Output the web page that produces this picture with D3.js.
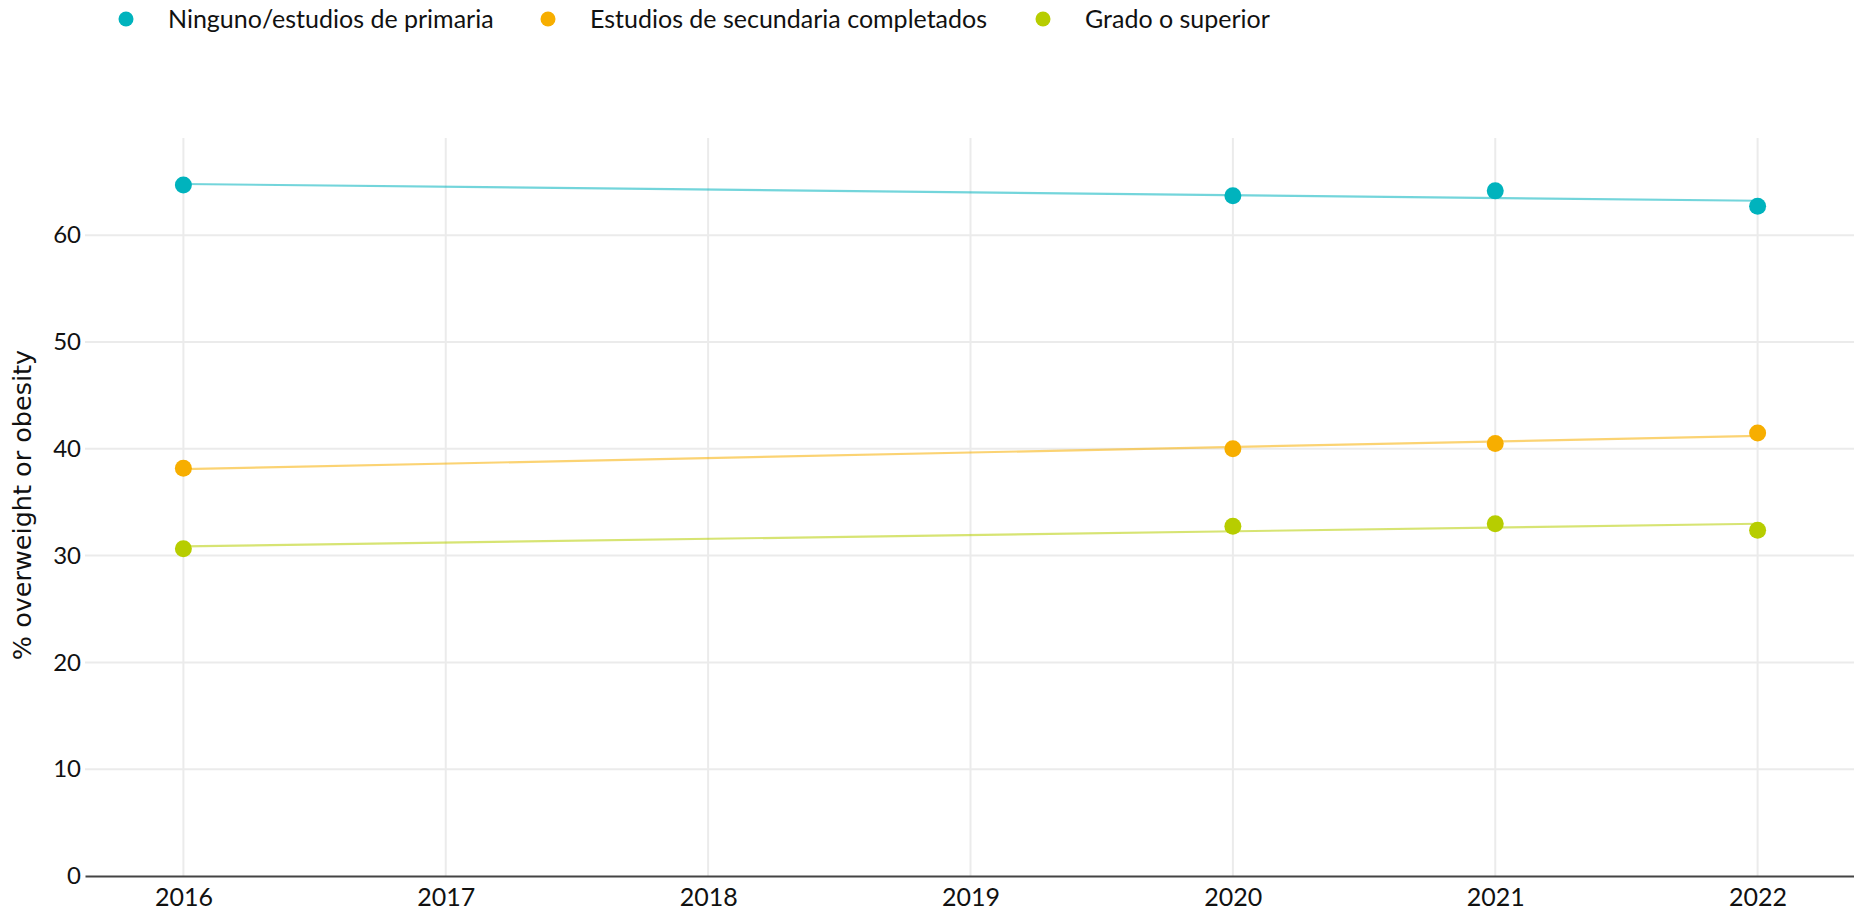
<!DOCTYPE html>
<html>
<head>
<meta charset="utf-8">
<script src="https://cdn.jsdelivr.net/npm/d3@7"></script>
<style>
  body { margin: 0; background: #fff; overflow: hidden; }
  svg { display: block; }
</style>
</head>
<body>
<div id="chart"></div>
<script>
// data
const years = [2016, 2020, 2021, 2022];
const seriesNames = ["Ninguno/estudios de primaria", "Estudios de secundaria completados", "Grado o superior"];
const primaria = [64.7, 63.7, 64.15, 62.7];
const secundaria = [38.18, 40.0, 40.5, 41.48];
const superior = [30.65, 32.75, 32.98, 32.37];
const xTicks = [2016, 2017, 2018, 2019, 2020, 2021, 2022];
const yTicks = [0, 10, 20, 30, 40, 50, 60];
const colors = ["#00b3bd", "#f7ae00", "#b7cd00"];

const width = 1854, height = 911;
const plotLeft = 85, plotRight = 1856, plotTop = 138, plotBottom = 876;

const svg = d3.select("#chart").append("svg")
    .attr("width", width)
    .attr("height", height);

const x = d3.scaleLinear().domain([2015.625, 2022.375]).range([plotLeft, plotRight]);
const y = d3.scaleLinear().domain([0, 69.1]).range([plotBottom, plotTop]);

// grid
svg.append("g").selectAll("line")
    .data(xTicks)
    .enter().append("line")
    .attr("x1", d => x(d)).attr("x2", d => x(d))
    .attr("y1", plotTop).attr("y2", plotBottom)
    .style("stroke", "#ebebeb").style("stroke-width", 2);

svg.append("g").selectAll("line")
    .data(yTicks.filter(d => d > 0))
    .enter().append("line")
    .attr("x1", plotLeft).attr("x2", plotRight)
    .attr("y1", d => y(d)).attr("y2", d => y(d))
    .style("stroke", "#ebebeb").style("stroke-width", 2);

// axes
const yAxis = svg.append("g")
    .attr("transform", `translate(${plotLeft},0)`)
    .call(d3.axisLeft(y).tickValues(yTicks).tickSize(0).tickPadding(4));
yAxis.select(".domain").remove();
yAxis.selectAll("text")
    .style("font-family", "Lato, 'Open Sans', sans-serif")
    .style("font-size", "24px")
    .style("fill", "#111");

const xAxis = svg.append("g")
    .attr("transform", `translate(0,${plotBottom})`)
    .call(d3.axisBottom(x).tickValues(xTicks).tickFormat(d3.format("d")).tickSize(0).tickPadding(12));
xAxis.select(".domain").style("stroke", "#444").style("stroke-width", 2);
xAxis.selectAll("text")
    .style("font-family", "Lato, 'Open Sans', sans-serif")
    .style("font-size", "25px")
    .style("fill", "#111");

svg.append("text")
    .attr("transform", "translate(31,505) rotate(-90)")
    .attr("text-anchor", "middle")
    .style("font-family", "'DejaVu Sans', sans-serif")
    .style("font-size", "25.5px")
    .style("fill", "#111")
    .text("% overweight or obesity");

// least squares trend line for each series
function fit(vals) {
  const mx = d3.mean(years), my = d3.mean(vals);
  let sxy = 0, sxx = 0;
  years.forEach((yr, i) => { sxy += (yr - mx) * (vals[i] - my); sxx += (yr - mx) * (yr - mx); });
  const b = sxy / sxx;
  return [years[0], years[years.length - 1]].map(yr => ({ yr: yr, v: my + b * (yr - mx) }));
}

const allSeries = [primaria, secundaria, superior];
const line = d3.line().x(d => x(d.yr)).y(d => y(d.v));

allSeries.forEach((vals, s) => {
  svg.append("path")
      .datum(fit(vals))
      .attr("d", line)
      .style("fill", "none")
      .style("stroke", colors[s])
      .style("stroke-opacity", 0.55)
      .style("stroke-width", 2.2);
});

allSeries.forEach((vals, s) => {
  svg.append("g").selectAll("circle")
      .data(vals)
      .enter().append("circle")
      .attr("cx", (d, i) => x(years[i]))
      .attr("cy", d => y(d))
      .attr("r", 8.5)
      .style("fill", colors[s]);
});

// legend
const legendX = [126, 548, 1043];
const legend = svg.append("g").selectAll("g")
    .data(seriesNames)
    .enter().append("g")
    .attr("transform", (d, i) => `translate(${legendX[i]},19)`);
legend.append("circle")
    .attr("r", 7.5)
    .style("fill", (d, i) => colors[i]);
legend.append("text")
    .attr("x", 42)
    .attr("y", 9)
    .style("font-family", "Lato, 'Open Sans', sans-serif")
    .style("font-size", "25px")
    .style("fill", "#111")
    .text(d => d);
</script>
</body>
</html>
